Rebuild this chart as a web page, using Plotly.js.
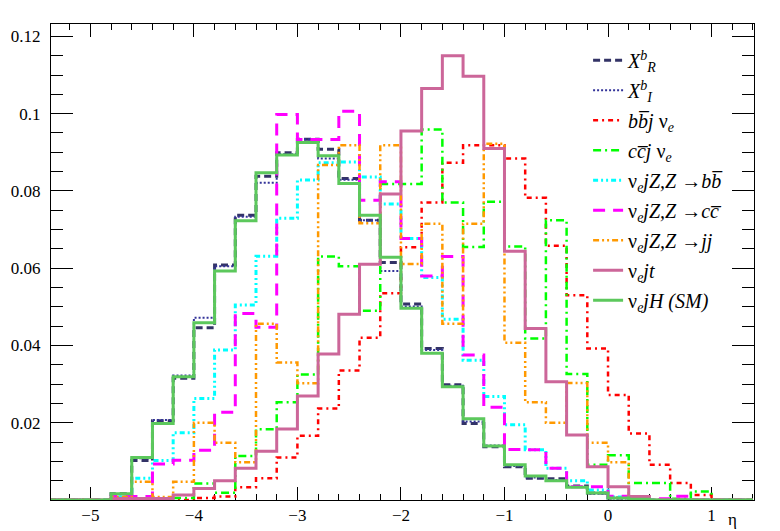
<!DOCTYPE html>
<html>
<head>
<meta charset="utf-8">
<script src="https://cdn.plot.ly/plotly-3.0.1.min.js"></script>
<style>html,body{margin:0;padding:0;background:#fff;}#chart{width:780px;height:531px;}</style>
</head>
<body>
<div id="chart"></div>
<script>
// Bin edges (eta), width 0.2
const binEdges = [-5.4,-5.2,-5.0,-4.8,-4.6,-4.4,-4.2,-4.0,-3.8,-3.6,-3.4,-3.2,-3.0,-2.8,-2.6,-2.4,-2.2,-2.0,-1.8,-1.6,-1.4,-1.2,-1.0,-0.8,-0.6,-0.4,-0.2,0.0,0.2,0.4,0.6,0.8,1.0,1.2,1.4];

// Series values (one per bin, 34 bins)
const xRb  = [0,0,0,0.0016,0.0102,0.0205,0.0315,0.0446,0.0608,0.0737,0.0838,0.0899,0.0934,0.0908,0.0832,0.0724,0.0615,0.0507,0.0392,0.0298,0.0198,0.0138,0.0086,0.0056,0.0055,0.0036,0.0018,0.0005,0,0,0,0,0,0];
const xIb  = [0,0,0,0.0015,0.0108,0.0207,0.0322,0.0472,0.0605,0.0733,0.0821,0.0895,0.0934,0.0884,0.0829,0.0724,0.0593,0.0501,0.0388,0.0296,0.0203,0.0141,0.0088,0.0058,0.0052,0.0034,0.0016,0.0004,0,0,0,0,0,0];
const bbj  = [0,0,0,0,0,0,0,0.0005,0.0009,0.0033,0.0056,0.011,0.0166,0.0237,0.0335,0.042,0.0535,0.0654,0.077,0.0873,0.0918,0.0918,0.0884,0.0782,0.0658,0.053,0.0392,0.0272,0.0172,0.0091,0.0044,0.0013,0,0];
const ccj  = [0,0,0,0,0,0,0.0005,0.0043,0.0019,0.0114,0.0183,0.0253,0.0325,0.063,0.0605,0.049,0.0818,0.0818,0.0959,0.077,0.0655,0.0772,0.0656,0.0418,0.0724,0.0326,0.0091,0.0116,0.0044,0.0044,0.0003,0.0022,0,0];
const zbb  = [0,0,0,0.0008,0.0056,0.0102,0.0174,0.0263,0.0388,0.0505,0.0631,0.0729,0.0828,0.0873,0.0875,0.0836,0.0766,0.0677,0.0576,0.0468,0.0362,0.0268,0.0195,0.013,0.0082,0.005,0.0026,0.0008,0,0,0,0,0,0];
const zcc  = [0,0,0,0.0009,0.0009,0.0093,0.0103,0.0129,0.0227,0.0483,0.0447,0.0998,0.0933,0.0933,0.1006,0.0776,0.0824,0.0677,0.058,0.063,0.0375,0.024,0.0131,0.013,0.0082,0.0034,0.0034,0.001,0.0003,0.0003,0.001,0,0,0];
const zjj  = [0,0,0,0.0008,0.0047,0.0008,0.0047,0.02,0.0148,0.0098,0.0456,0.0356,0.0302,0.0867,0.0918,0.0716,0.0918,0.0611,0.0715,0.0456,0.0715,0.0922,0.0407,0.0253,0.02,0.0303,0.0148,0.0098,0,0,0,0,0,0];
const vjt  = [0,0,0,0.0004,0.0004,0.0004,0.0013,0.003,0.005,0.0082,0.0126,0.0184,0.0269,0.0378,0.0481,0.061,0.0792,0.0955,0.1065,0.115,0.1097,0.091,0.0644,0.0444,0.0306,0.0168,0.0086,0.0034,0.0009,0,0,0,0,0];
const vjH  = [0,0,0,0.0016,0.011,0.0198,0.0319,0.0459,0.0593,0.0723,0.0847,0.0893,0.0925,0.0891,0.0819,0.0737,0.0628,0.0496,0.038,0.0293,0.021,0.014,0.0091,0.0062,0.005,0.0033,0.0018,0.0005,0.0002,0,0,0,0,0];

const seriesNames = [
  "<i>X</i><sup><i>b</i></sup><sub><i>R</i></sub>",
  "<i>X</i><sup><i>b</i></sup><sub><i>I</i></sub>",
  "<i>bb\u0305j</i> \u03bd<sub><i>e</i></sub>",
  "<i>cc\u0305j</i> \u03bd<sub><i>e</i></sub>",
  "\u03bd<sub><i>e</i></sub><i>jZ,Z</i> \u2192<i>bb\u0305</i>",
  "\u03bd<sub><i>e</i></sub><i>jZ,Z</i> \u2192<i>cc\u0305</i>",
  "\u03bd<sub><i>e</i></sub><i>jZ,Z</i> \u2192<i>jj</i>",
  "\u03bd<sub><i>e</i></sub><i>jt</i>",
  "\u03bd<sub><i>e</i></sub><i>jH (SM)</i>"
];
const seriesValues = [xRb, xIb, bbj, ccj, zbb, zcc, zjj, vjt, vjH];

const yTickVals = [0.02, 0.04, 0.06, 0.08, 0.1, 0.12];
const yTickText = ["0.02", "0.04", "0.06", "0.08", "0.1", "0.12"];
const xTickVals = [-5, -4, -3, -2, -1, 0, 1];
const xTickText = ["\u22125", "\u22124", "\u22123", "\u22122", "\u22121", "0", "1"];

const styles = [
  {color: "#333366", width: 3, dash: "7px,4px"},
  {color: "#333399", width: 2, dash: "2px,2px"},
  {color: "#ff0000", width: 2.5, dash: "5px,4px,2px,4px"},
  {color: "#00ff00", width: 2.5, dash: "8px,4px,2px,4px"},
  {color: "#00ffff", width: 3, dash: "5px,3px,2px,3px,2px,3px"},
  {color: "#ff00ff", width: 3, dash: "12px,8px"},
  {color: "#ff9900", width: 2.5, dash: "6px,3px,2px,3px,2px,3px"},
  {color: "#cc6699", width: 3, dash: "solid"},
  {color: "#5cc85c", width: 3, dash: "solid"}
];

const traces = seriesValues.map((vals, k) => ({
  type: "scatter",
  mode: "lines",
  x: binEdges,
  y: vals.concat([vals[vals.length - 1]]),
  line: Object.assign({shape: "hv"}, styles[k]),
  name: seriesNames[k],
  legendgroup: "g" + k,
  hoverinfo: "skip"
}));

const fontSerif = "'Liberation Serif', 'Times New Roman', serif";

const layout = {
  width: 780, height: 531,
  margin: {l: 51, r: 26, t: 24, b: 31},
  paper_bgcolor: "#ffffff",
  plot_bgcolor: "#ffffff",
  font: {family: fontSerif, size: 16, color: "#000"},
  showlegend: true,
  legend: {
    x: 0.764, y: 0.965, xanchor: "left", yanchor: "top",
    bgcolor: "rgba(255,255,255,0)", borderwidth: 0,
    font: {family: fontSerif, size: 20, color: "#000"},
    itemwidth: 30, tracegroupgap: 1, itemclick: false
  },
  xaxis: {
    range: [-5.38, 1.41],
    tickmode: "array", tickvals: xTickVals, ticktext: xTickText,
    ticks: "inside", ticklen: 13, tickwidth: 1, tickcolor: "#000",
    minor: {tickmode: "linear", tick0: 0, dtick: 0.2, ticks: "inside", ticklen: 6, tickcolor: "#000", showgrid: false},
    showline: true, linecolor: "#000", linewidth: 1, mirror: "allticks",
    showgrid: false, zeroline: false,
    tickfont: {family: fontSerif, size: 17, color: "#000"},
    ticklabelstandoff: 0,
    layer: "below traces"
  },
  yaxis: {
    range: [0, 0.1232],
    tickmode: "array", tickvals: yTickVals, ticktext: yTickText,
    ticks: "inside", ticklen: 22, tickwidth: 1, tickcolor: "#000",
    minor: {tickmode: "linear", tick0: 0, dtick: 0.005, ticks: "inside", ticklen: 12, tickcolor: "#000", showgrid: false},
    showline: true, linecolor: "#000", linewidth: 1, mirror: "allticks",
    showgrid: false, zeroline: false,
    tickfont: {family: fontSerif, size: 17, color: "#000"},
    ticklabelstandoff: 6,
    layer: "below traces"
  },
  annotations: [{
    text: "\u03b7", xref: "paper", yref: "paper",
    x: 0.970, y: -0.042, xanchor: "center", yanchor: "middle",
    showarrow: false, font: {family: fontSerif, size: 17, color: "#000"}
  }]
};

Plotly.newPlot("chart", traces, layout, {staticPlot: true, displayModeBar: false});
</script>
</body>
</html>
